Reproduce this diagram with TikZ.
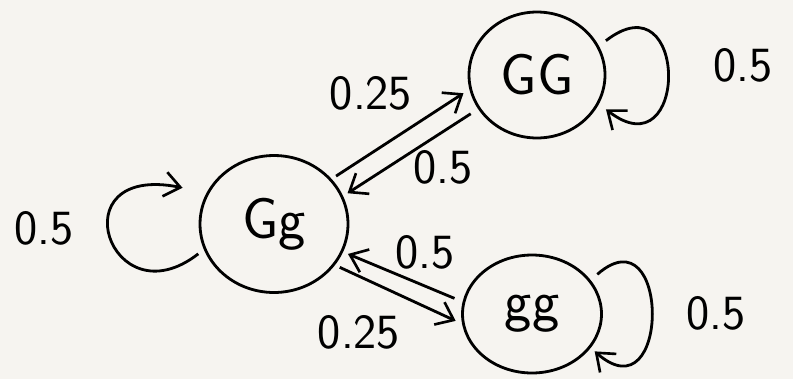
\documentclass[tikz,border=0pt]{standalone}
\usepackage{tikz}
\usetikzlibrary{arrows.meta, shapes.geometric}
\definecolor{paper}{RGB}{246,244,240}

\begin{document}
\begin{tikzpicture}[
  x=0.02cm, y=-0.02cm,
  state/.style={draw, ellipse, inner sep=0pt, line width=1.6pt,
                font=\fontsize{33}{35}\selectfont\sffamily},
  prob/.style={font=\fontsize{28}{30}\selectfont\sffamily},
  arr/.style={-{Straight Barb[length=9pt, width=14pt, line width=1.5pt]}, line width=1.6pt}
]
  \fill[paper] (0,0) rectangle (793,379);
  \useasboundingbox (0,0) rectangle (793,379);

  % --- States ---
  \node[state, minimum width=2.72cm, minimum height=2.52cm] (GG) at (537,75)  {GG};
  \node[state, minimum width=2.96cm, minimum height=2.74cm] (Gg) at (274,224) {Gg};
  \node[state, minimum width=2.78cm, minimum height=2.36cm] (gg) at (532,314) {gg};

  % --- Transitions between states ---
  \draw[arr, shorten <=3pt, shorten >=4pt] (Gg.38) -- (GG.192);
  \draw[arr, shorten <=5pt, shorten >=3pt] (GG.210) -- (Gg.22);
  \draw[arr, shorten <=5pt, shorten >=3pt] (gg.170) -- (Gg.338);
  \draw[arr, shorten <=3pt, shorten >=4pt] (Gg.326) -- (gg.188);

  % --- Self loops ---
  \draw[arr, shorten <=5pt, shorten >=5pt]
    (GG.25) .. controls +(90,-70) and +(90,70) .. (GG.-25);
  \draw[arr, shorten <=4pt, shorten >=14pt]
    (Gg.200) .. controls +(-94,73) and +(-150,-30) .. (Gg.155);
  \draw[arr, shorten <=5pt, shorten >=3pt]
    (gg.30) .. controls +(80,-70) and +(80,70) .. (gg.-30);

  % --- Probabilities ---
  \node[prob] (pGGGG) at (743,65)  {0.5};
  \node[prob] (pGgGg) at (44,228)  {0.5};
  \node[prob] (pgggg) at (716,313) {0.5};
  \node[prob] (pGgGG) at (371,93)  {0.25};
  \node[prob] (pGGGg) at (443,167) {0.5};
  \node[prob] (pggGg) at (425,252) {0.5};
  \node[prob] (pGggg) at (359,332) {0.25};

\end{tikzpicture}
\end{document}
